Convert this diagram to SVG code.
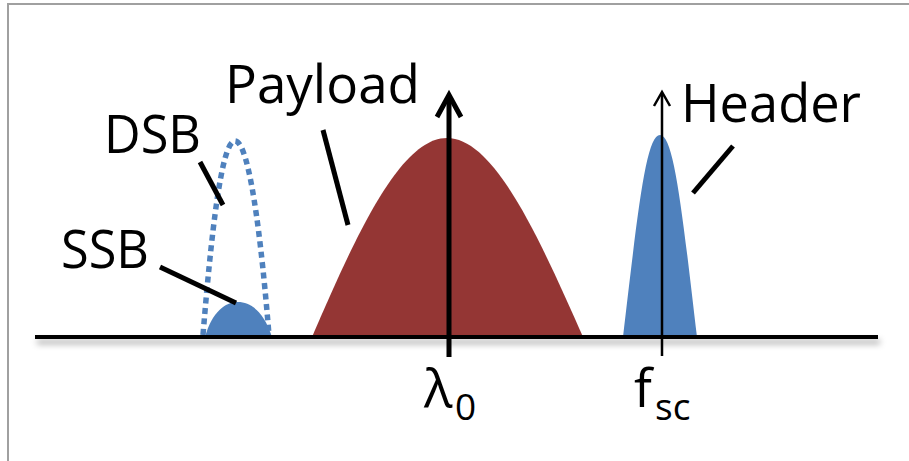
<svg xmlns="http://www.w3.org/2000/svg" width="909" height="461" viewBox="0 0 909 461">
<style>
.lbl{font-family:"Open Sans","Liberation Sans",sans-serif;font-size:53px;fill:#000}
.sub{font-family:"Open Sans","Liberation Sans",sans-serif;font-size:37px;fill:#000}
.ptr{stroke:#000;stroke-width:5;fill:none}
.blue{fill:#4F81BD}
.red{fill:#943634}
</style>
<defs>
<filter id="sh" filterUnits="userSpaceOnUse" x="0" y="300" width="909" height="80">
<feDropShadow dx="2" dy="5" stdDeviation="3" flood-color="#000" flood-opacity="0.35"/>
</filter>
</defs>
<rect width="909" height="461" fill="#fff"/>
<path d="M8,461 V4 H909" fill="none" stroke="#a0a0a0" stroke-width="2"/>

<g id="payload">
<path class="red" d="M312,337 C356,235 400,138 447,138 C494,138 538,235 583,337 Z"/>
<text class="lbl" x="225" y="103" textLength="195" lengthAdjust="spacingAndGlyphs">Payload</text>
</g>
<g id="header">
<path class="blue" d="M623,337 C638,210 646,135 660,135 C674,135 682,210 697,337 Z"/>
<text class="lbl" x="681" y="122" textLength="180" lengthAdjust="spacingAndGlyphs">Header</text>
</g>
<g id="ssb">
<path class="blue" d="M205,337 C212,312 225,302 238,302 C251,302 264,312 272,337 Z"/>
<text class="lbl" x="61" y="268" textLength="88" lengthAdjust="spacingAndGlyphs">SSB</text>
</g>
<g id="dsb">
<path d="M203,335 C214,200 224,141 235,141 C246,141 258,200 269,335" fill="none" stroke="#4F81BD" stroke-width="5.5" stroke-dasharray="6 4.5"/>
<text class="lbl" x="104" y="153" textLength="97" lengthAdjust="spacingAndGlyphs">DSB</text>
</g>

<g id="axis" filter="url(#sh)">
<line x1="35" y1="337" x2="878" y2="337" stroke="#000" stroke-width="4"/>
</g>
<g id="lambda0">
<line x1="449" y1="357" x2="449" y2="96" stroke="#000" stroke-width="5"/>
<polyline points="437,117 449,95 461,117" fill="none" stroke="#000" stroke-width="5" stroke-linejoin="miter"/>
<text class="lbl" x="424" y="407">λ<tspan class="sub" x="455" y="420">0</tspan></text>
</g>
<g id="fsc">
<line x1="662" y1="356" x2="662" y2="93" stroke="#000" stroke-width="2.5"/>
<polyline points="654,106 662,92 670,106" fill="none" stroke="#000" stroke-width="2.5"/>
<text class="lbl" x="634" y="407">f<tspan class="sub" x="655" y="420">sc</tspan></text>
</g>

<g id="connectors">
<line class="ptr" x1="323" y1="130" x2="348" y2="225"/>
<line class="ptr" x1="733" y1="146" x2="693" y2="193"/>
<line class="ptr" x1="200" y1="162" x2="223" y2="205"/>
<line class="ptr" x1="160" y1="267" x2="236" y2="303"/>
</g>
</svg>
